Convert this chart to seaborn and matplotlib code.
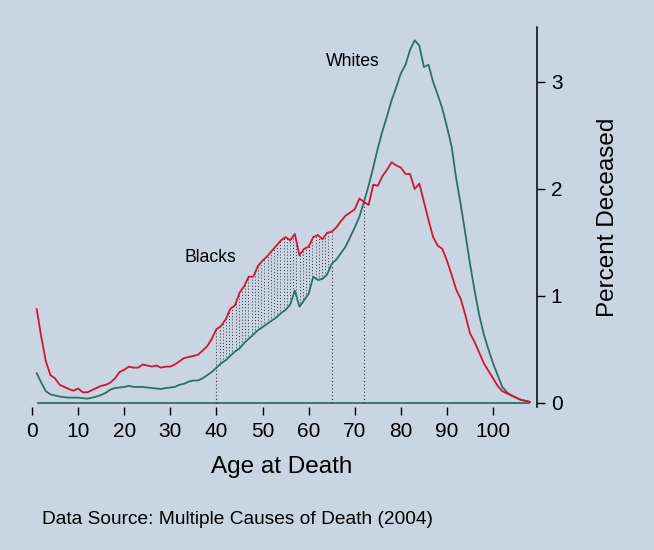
import numpy as np
import pandas as pd
import matplotlib
matplotlib.use("Agg")
import matplotlib.pyplot as plt
import seaborn as sns

# ---------------- data ----------------
ages = list(range(1, 109))
blacks = [0.88, 0.62, 0.39, 0.26, 0.23, 0.17, 0.15, 0.13, 0.115, 0.135,
          0.10, 0.10, 0.12, 0.14, 0.16, 0.17, 0.19, 0.23, 0.29, 0.31,
          0.34, 0.33, 0.33, 0.36, 0.35, 0.34, 0.35, 0.33, 0.34, 0.34,
          0.36, 0.39, 0.42, 0.43, 0.44, 0.45, 0.49, 0.53, 0.60, 0.69,
          0.72, 0.78, 0.88, 0.91, 1.03, 1.09, 1.18, 1.18, 1.28, 1.33,
          1.37, 1.42, 1.47, 1.52, 1.55, 1.52, 1.58, 1.38, 1.44, 1.46,
          1.55, 1.57, 1.53, 1.59, 1.60, 1.64, 1.70, 1.75, 1.78, 1.81,
          1.91, 1.88, 1.85, 2.04, 2.03, 2.12, 2.18, 2.25, 2.22, 2.20,
          2.14, 2.14, 2.00, 2.05, 1.88, 1.71, 1.55, 1.47, 1.44, 1.33,
          1.20, 1.06, 0.97, 0.82, 0.65, 0.57, 0.47, 0.37, 0.30, 0.23,
          0.16, 0.11, 0.09, 0.07, 0.05, 0.03, 0.02, 0.01]
whites = [0.28, 0.19, 0.11, 0.08, 0.07, 0.06, 0.055, 0.05, 0.05, 0.05,
          0.045, 0.04, 0.05, 0.06, 0.075, 0.095, 0.125, 0.14, 0.145, 0.15,
          0.16, 0.15, 0.15, 0.15, 0.145, 0.14, 0.135, 0.13, 0.14, 0.145,
          0.15, 0.17, 0.18, 0.20, 0.21, 0.21, 0.23, 0.26, 0.29, 0.33,
          0.37, 0.40, 0.44, 0.48, 0.51, 0.56, 0.60, 0.64, 0.68, 0.71,
          0.74, 0.77, 0.80, 0.84, 0.87, 0.92, 1.05, 0.90, 0.96, 1.02,
          1.18, 1.15, 1.16, 1.20, 1.30, 1.34, 1.40, 1.46, 1.55, 1.64,
          1.74, 1.88, 2.03, 2.20, 2.38, 2.54, 2.68, 2.83, 2.95, 3.08,
          3.16, 3.30, 3.39, 3.34, 3.14, 3.16, 3.00, 2.88, 2.75, 2.58,
          2.40, 2.10, 1.85, 1.58, 1.30, 1.05, 0.82, 0.64, 0.50, 0.37,
          0.26, 0.15, 0.10, 0.07, 0.05, 0.03, 0.02, 0.01]
gap_start, gap_end = 40, 65
marker_ages = [40, 65, 72]
xticks = list(range(0, 101, 10))
yticks = [0, 1, 2, 3]
labels = {"Whites": (69.6, 3.19), "Blacks": (38.6, 1.355)}

# ---------------- style ----------------
BG = "#c9d5e0"
RED = "#d0143c"
TEAL = "#2f6f66"

sns.set_theme(style="white", rc={"text.color": "black",
                                 "axes.labelcolor": "black",
                                 "xtick.color": "black",
                                 "ytick.color": "black"})
plt.rcParams['font.family'] = ['Liberation Sans', 'DejaVu Sans']

fig = plt.figure(figsize=(6.54, 5.5), dpi=100, facecolor=BG)
ax = fig.add_axes([0.0419, 0.2605, 0.779, 0.6897])
ax.set_facecolor(BG)

df = pd.DataFrame({
    "age": ages * 2,
    "pct": whites + blacks,
    "group": ["Whites"] * len(ages) + ["Blacks"] * len(ages),
})

# baseline
ax.hlines(0, ages[0], ages[-1], color=TEAL, lw=1.3, zorder=1)

sns.lineplot(data=df, x="age", y="pct", hue="group",
             hue_order=["Whites", "Blacks"],
             palette={"Whites": TEAL, "Blacks": RED},
             linewidth=1.3, legend=False, ax=ax, zorder=3)

# dotted gap between the curves
xs = np.linspace(gap_start, gap_end, 37)
lo = np.interp(xs, ages, whites)
hi = np.interp(xs, ages, blacks)
ax.vlines(xs, lo, hi, colors="#333333", linestyles=(0, (1, 2.2)),
          linewidth=0.7, zorder=2)
for a in marker_ages:
    top = min(np.interp(a, ages, whites), np.interp(a, ages, blacks))
    ax.vlines(a, 0, top, colors="#333333", linestyles=(0, (1, 2.2)),
              linewidth=0.8, zorder=2)

for name, (x, y) in labels.items():
    ax.text(x, y, name, fontsize=12.7, ha="center", va="center", color="black")

ax.set_xlim(-1, 109.5)
ax.set_ylim(-0.035, 3.51)
ax.set_xticks(xticks)
ax.set_yticks(yticks)
ax.yaxis.tick_right()
ax.yaxis.set_label_position("right")
for s in ["top", "left", "bottom"]:
    ax.spines[s].set_visible(False)
ax.spines["right"].set_color("black")
ax.spines["right"].set_linewidth(1.1)
ax.tick_params(axis="x", bottom=True, direction="out", length=6, width=1.0,
               color="black", labelcolor="black", labelsize=15, pad=5)
ax.tick_params(axis="y", right=True, left=False, direction="out", length=6,
               width=1.0, color="black", labelcolor="black", labelsize=15, pad=4)
ax.set_xlabel("Age at Death", fontsize=17.5, labelpad=11, color="black")
ax.set_ylabel("Percent Deceased", fontsize=17.5, labelpad=25, color="black")
ax.grid(False)

fig.text(42 / 654, 1 - 520 / 550, "Data Source: Multiple Causes of Death (2004)",
         fontsize=13.8, ha="left", va="center", color="black")

fig.savefig("out.png", dpi=100, facecolor=BG)
